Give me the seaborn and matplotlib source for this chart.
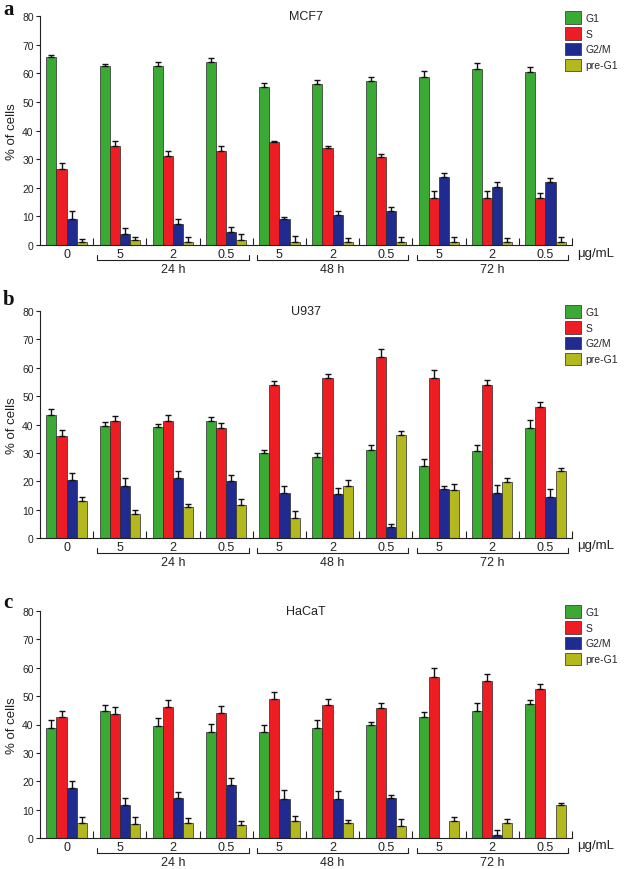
import numpy as np
import pandas as pd
import matplotlib
matplotlib.use("Agg")
import matplotlib.pyplot as plt
import seaborn as sns
from matplotlib.patches import Patch

# ---------------- data ----------------
phases = ["G1", "S", "G2/M", "pre-G1"]
doses = ["0", "5", "2", "0.5", "5", "2", "0.5", "5", "2", "0.5"]
times = ["24 h", "48 h", "72 h"]
cell_lines = ["MCF7", "U937", "HaCaT"]
panel_letters = ["a", "b", "c"]

mcf7_g1 = [65.6, 62.4, 62.4, 63.8, 55.1, 56.3, 57.3, 58.7, 61.4, 60.5]
mcf7_g1_err = [0.9, 1.0, 1.5, 1.4, 1.5, 1.5, 1.5, 2.0, 2.1, 1.6]
mcf7_s = [26.5, 34.7, 31.2, 32.7, 35.9, 33.8, 30.9, 16.5, 16.5, 16.5]
mcf7_s_err = [2.3, 1.5, 1.7, 1.9, 0.5, 0.9, 0.9, 2.3, 2.3, 1.6]
mcf7_g2m = [9.2, 4.0, 7.5, 4.7, 9.1, 10.4, 11.8, 23.8, 20.4, 22.1]
mcf7_g2m_err = [2.8, 2.0, 1.5, 1.5, 0.8, 1.6, 1.5, 1.5, 1.6, 1.4]
mcf7_preg1 = [1.0, 1.7, 1.2, 1.7, 1.0, 1.2, 1.2, 1.2, 1.2, 1.2]
mcf7_preg1_err = [1.2, 1.2, 1.7, 2.2, 2.0, 1.3, 1.5, 1.5, 1.3, 1.5]

u937_g1 = [43.3, 39.4, 39.1, 41.4, 29.9, 28.4, 31.0, 25.3, 30.5, 38.8]
u937_g1_err = [2.0, 1.6, 1.2, 1.2, 1.0, 1.4, 1.8, 2.6, 2.3, 2.8]
u937_s = [36.0, 41.3, 41.3, 38.8, 53.8, 56.3, 63.9, 56.4, 53.8, 46.2]
u937_s_err = [2.0, 1.6, 2.1, 1.8, 1.7, 1.6, 2.7, 2.9, 1.8, 1.7]
u937_g2m = [20.6, 18.5, 21.2, 20.1, 16.0, 15.4, 4.0, 17.1, 16.0, 14.5]
u937_g2m_err = [2.2, 2.6, 2.3, 2.2, 2.2, 2.2, 1.1, 1.3, 2.8, 2.6]
u937_preg1 = [13.1, 8.3, 10.8, 11.6, 7.2, 18.5, 36.4, 16.9, 19.7, 23.6]
u937_preg1_err = [1.5, 1.4, 1.3, 2.0, 2.2, 2.0, 1.2, 2.0, 1.4, 1.0]

hacat_g1 = [38.8, 44.6, 39.6, 37.5, 37.5, 38.8, 39.8, 42.6, 44.6, 47.4]
hacat_g1_err = [2.8, 2.2, 2.7, 2.7, 2.5, 2.7, 1.2, 1.9, 2.9, 1.2]
hacat_s = [42.7, 43.6, 46.2, 43.9, 49.0, 46.8, 45.9, 56.9, 55.4, 52.4]
hacat_s_err = [2.2, 2.7, 2.5, 2.6, 2.3, 2.1, 1.8, 2.9, 2.5, 1.9]
hacat_g2m = [17.6, 11.5, 14.1, 18.7, 13.8, 13.8, 14.0, 0.0, 1.2, 0.0]
hacat_g2m_err = [2.5, 2.5, 2.0, 2.4, 3.1, 2.8, 1.0, 0.0, 1.5, 0.0]
hacat_preg1 = [5.4, 5.0, 5.3, 4.5, 6.1, 5.2, 4.2, 6.0, 5.2, 11.5]
hacat_preg1_err = [1.9, 2.4, 1.9, 1.6, 1.5, 1.2, 2.5, 1.4, 1.6, 0.9]

panels = [
    ([mcf7_g1, mcf7_s, mcf7_g2m, mcf7_preg1],
     [mcf7_g1_err, mcf7_s_err, mcf7_g2m_err, mcf7_preg1_err]),
    ([u937_g1, u937_s, u937_g2m, u937_preg1],
     [u937_g1_err, u937_s_err, u937_g2m_err, u937_preg1_err]),
    ([hacat_g1, hacat_s, hacat_g2m, hacat_preg1],
     [hacat_g1_err, hacat_s_err, hacat_g2m_err, hacat_preg1_err]),
]

colors = ["#3aaa35", "#ee1d23", "#1f2b8e", "#b4b81f"]

# ---------------- style ----------------
sns.set_theme(style="ticks")
plt.rcParams["font.family"] = ["Liberation Sans", "DejaVu Sans"]

W, H = 625, 870
fig = plt.figure(figsize=(W / 100, H / 100), dpi=100)

# pixel geometry of each panel: (top of 80, bottom at 0)
panel_px = [(17, 246), (312, 539), (612, 839)]
left_px, right_px = 40, 572
legend_top_px = [12, 306, 606]
letter_base_px = [15, 305, 608]

cond_ids = [f"c{i}" for i in range(len(doses))]
edge = "#2a2a2a"

for p, ((vals, errs), (top, bot)) in enumerate(zip(panels, panel_px)):
    ax = fig.add_axes([left_px / W, 1 - bot / H,
                       (right_px - left_px) / W, (bot - top) / H])
    rows = []
    for ph, v, e in zip(phases, vals, errs):
        for cid, vv, ee in zip(cond_ids, v, e):
            rows.append({"cond": cid, "phase": ph, "value": vv, "err": ee})
    df = pd.DataFrame(rows)

    sns.barplot(data=df, x="cond", y="value", hue="phase", order=cond_ids,
                hue_order=phases, palette=colors, width=0.76, errorbar=None,
                edgecolor=edge, linewidth=0.5, ax=ax, legend=False,
                saturation=1)

    # upward-only error bars
    for cont, ph in zip(ax.containers, phases):
        sub = df[df["phase"] == ph].set_index("cond").loc[cond_ids]
        xs, ys, es = [], [], []
        for bar, (_, r) in zip(cont.patches, sub.iterrows()):
            if r["value"] <= 0 and r["err"] <= 0:
                continue
            xs.append(bar.get_x() + bar.get_width() / 2)
            ys.append(bar.get_height())
            es.append(r["err"])
        es = np.array(es)
        ax.errorbar(xs, ys, yerr=[np.zeros_like(es), es], fmt="none",
                    ecolor="#111111", elinewidth=1.0, capsize=1.9,
                    capthick=1.0, zorder=1)

    ax.set_xlim(-0.5, len(doses) - 0.5)
    ax.set_ylim(0, 80)
    ax.set_yticks(range(0, 81, 10))
    ax.tick_params(axis="y", labelsize=7.5, length=3, width=0.8,
                   pad=1.5, colors="#222222")
    ax.set_xticks(range(len(doses)))
    ax.set_xticklabels(doses)
    ax.tick_params(axis="x", which="major", length=0, labelsize=9, pad=2.5,
                   colors="#222222")
    ax.set_xticks(np.arange(0.5, len(doses), 1.0), minor=True)
    ax.tick_params(axis="x", which="minor", direction="in", length=5,
                   width=0.8, color="#222222")
    ax.set_xlabel("")
    ax.set_ylabel("% of cells", fontsize=9.5, labelpad=3, color="#222222")
    for s in ["top", "right"]:
        ax.spines[s].set_visible(False)
    for s in ["left", "bottom"]:
        ax.spines[s].set_linewidth(0.8)
        ax.spines[s].set_color("#222222")

    # title inside
    ax.text(0.5, 80, cell_lines[p], ha="center", va="center", fontsize=9,
            color="#222222", transform=ax.get_yaxis_transform())

    # brackets for times
    hpx = bot - top
    yb = -(260.7 - bot + 0) / hpx if False else -(14.7) / hpx
    yb_end = -(10.0) / hpx
    ytxt = -(24.0) / hpx
    trans = ax.get_xaxis_transform()
    for k, t in enumerate(times):
        x0 = 1 + 3 * k - 0.5 + 0.08
        x1 = 1 + 3 * k + 2 + 0.5 - 0.08
        ax.plot([x0, x0, x1, x1], [yb_end, yb, yb, yb_end], color="#222222",
                lw=0.8, transform=trans, clip_on=False)
        ax.text(1 + 3 * k + 1, ytxt, t, ha="center", va="center",
                fontsize=9, color="#222222", transform=trans)
    ax.text(1.0 + 5 / (right_px - left_px), -7.5 / hpx, "\u03bcg/mL",
            ha="left", va="center", fontsize=9.5, color="#222222",
            transform=ax.transAxes)

    # legend
    handles = [Patch(facecolor=c, edgecolor=edge, linewidth=0.5, label=ph)
               for c, ph in zip(colors, phases)]
    ax.legend(handles=handles, loc="upper left",
              bbox_to_anchor=(565 / W, 1 - legend_top_px[p] / H),
              bbox_transform=fig.transFigure, frameon=False, fontsize=7.5,
              handlelength=1.55, handleheight=1.5, labelspacing=0.3,
              handletextpad=0.4, borderpad=0, borderaxespad=0)

    # panel letter
    fig.text(3 / W, 1 - letter_base_px[p] / H, panel_letters[p],
             fontsize=15, fontweight="bold", family="Liberation Serif",
             ha="left", va="baseline", color="#111111")

fig.savefig("out.png", dpi=100)
